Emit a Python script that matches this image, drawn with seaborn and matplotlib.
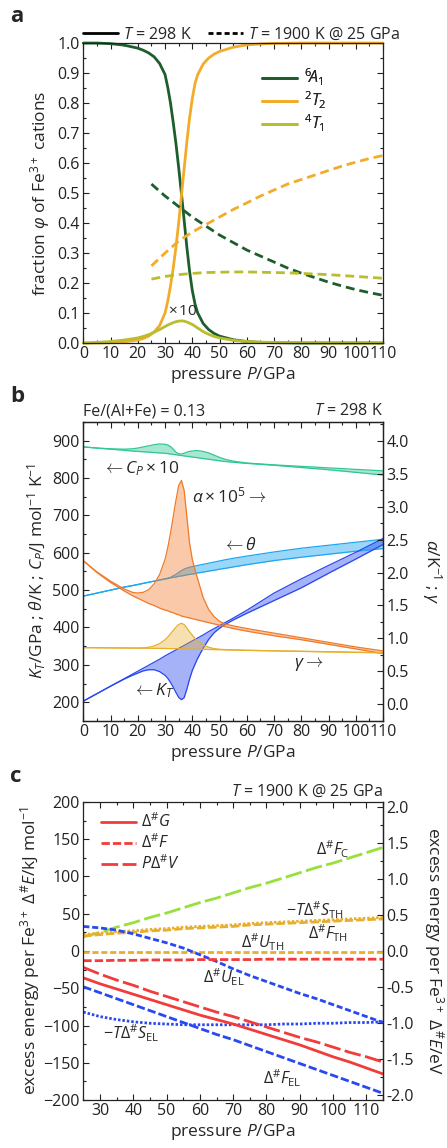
import numpy as np
import pandas as pd
import matplotlib
matplotlib.use("Agg")
import matplotlib.pyplot as plt
import seaborn as sns
from matplotlib.ticker import MultipleLocator, FormatStrFormatter
from matplotlib.lines import Line2D

# ---------------- panel a data ----------------
p_a = [0, 5, 10, 15, 20, 22, 24, 26, 28, 30, 31, 32, 33, 34, 35, 36, 37, 38, 39, 40,
       41, 42, 44, 46, 48, 50, 55, 60, 65, 70, 80, 90, 100, 110]
a6A1_298 = [1.0, 1.0, 0.998, 0.993, 0.983, 0.976, 0.967, 0.954, 0.932, 0.895, 0.852, 0.80,
            0.735, 0.665, 0.585, 0.50, 0.41, 0.32, 0.24, 0.175, 0.13, 0.10, 0.065, 0.045,
            0.032, 0.023, 0.011, 0.005, 0.002, 0.001, 0.0, 0.0, 0.0, 0.0]
a2T2_298 = [0.0, 0.0, 0.001, 0.004, 0.01, 0.015, 0.023, 0.037, 0.058, 0.10, 0.14, 0.19,
            0.25, 0.32, 0.40, 0.49, 0.58, 0.67, 0.75, 0.815, 0.865, 0.895, 0.93, 0.95,
            0.963, 0.972, 0.986, 0.994, 0.997, 0.999, 1.0, 1.0, 1.0, 1.0]
a4T1_298_x10 = [0.0, 0.002, 0.005, 0.01, 0.017, 0.022, 0.028, 0.036, 0.045, 0.055, 0.06,
                0.064, 0.068, 0.071, 0.073, 0.074, 0.073, 0.07, 0.066, 0.062, 0.056, 0.05,
                0.038, 0.029, 0.022, 0.017, 0.009, 0.005, 0.003, 0.002, 0.001, 0.0, 0.0, 0.0]
p_a_hot = [25, 30, 35, 40, 45, 50, 55, 60, 65, 70, 75, 80, 85, 90, 95, 100, 105, 110]
a6A1_1900 = [0.53, 0.49, 0.455, 0.42, 0.39, 0.36, 0.335, 0.31, 0.29, 0.27, 0.25, 0.233,
             0.218, 0.203, 0.19, 0.178, 0.168, 0.159]
a2T2_1900 = [0.257, 0.30, 0.34, 0.37, 0.395, 0.42, 0.445, 0.467, 0.49, 0.51, 0.53, 0.545,
             0.56, 0.575, 0.59, 0.603, 0.615, 0.625]
a4T1_1900 = [0.213, 0.222, 0.228, 0.232, 0.235, 0.236, 0.237, 0.237, 0.236, 0.235, 0.234,
             0.232, 0.230, 0.228, 0.225, 0.222, 0.219, 0.216]

# ---------------- panel b data ----------------
p_b = [0, 5, 10, 15, 18, 20, 22, 24, 26, 28, 30, 31, 32, 33, 34, 35, 36, 37, 38, 39, 40,
       41, 42, 44, 46, 48, 50, 52, 55, 60, 70, 80, 90, 100, 110]
cp_lo = [883, 880, 877, 874, 872, 871, 870, 869, 868, 867, 866, 865, 864, 863, 862, 861,
         860, 859, 858, 857, 856, 855, 854, 852, 850, 848, 846, 844, 842, 839, 834, 828,
         822, 815, 808]
cp_hi = [883, 880, 878, 877, 878, 880, 883, 886, 889, 891, 890, 888, 884, 877, 869, 865,
         864, 866, 869, 871, 872, 873, 873, 871, 867, 861, 855, 850, 845, 840, 835, 831,
         827, 823, 819]
alpha_lo = [2.18, 2.0, 1.85, 1.72, 1.65, 1.61, 1.57, 1.53, 1.5, 1.46, 1.43, 1.42, 1.40,
            1.39, 1.37, 1.36, 1.34, 1.33, 1.32, 1.31, 1.30, 1.29, 1.28, 1.26, 1.24, 1.22,
            1.20, 1.18, 1.15, 1.11, 1.04, 0.98, 0.91, 0.84, 0.77]
alpha_hi = [2.18, 2.01, 1.87, 1.75, 1.70, 1.69, 1.70, 1.74, 1.83, 1.97, 2.2, 2.38, 2.6,
            2.85, 3.1, 3.32, 3.40, 3.25, 2.85, 2.45, 2.2, 2.04, 1.9, 1.62, 1.44, 1.33,
            1.26, 1.22, 1.19, 1.15, 1.08, 1.01, 0.94, 0.87, 0.81]
theta_lo = [484, 492, 500, 508, 512, 515, 518, 521, 524, 527, 530, 531, 533, 534, 535,
            537, 538, 539, 541, 542, 543, 544, 546, 548, 551, 553, 556, 558, 562, 568,
            579, 588, 596, 604, 611]
theta_hi = [484, 492, 500, 508, 512, 515, 518, 521, 524, 527, 530, 532, 534, 538, 542,
            547, 552, 556, 559, 561, 563, 564, 566, 569, 572, 575, 578, 581, 585, 591,
            602, 612, 620, 628, 636]
kt_hi = [203, 223, 243, 263, 275, 283, 291, 299, 307, 315, 324, 328, 332, 336, 340, 344,
         348, 352, 356, 360, 364, 368, 372, 380, 389, 397, 405, 413, 425, 446, 492, 530,
         566, 601, 638]
kt_lo = [203, 223, 243, 262, 272, 278, 284, 287, 287, 282, 272, 264, 253, 240, 226, 213,
         207, 212, 235, 262, 285, 302, 318, 345, 368, 386, 398, 408, 420, 438, 472, 506,
         545, 583, 622]
gamma_lo = [0.86, 0.858, 0.856, 0.854, 0.853, 0.852, 0.851, 0.85, 0.849, 0.848, 0.847,
            0.846, 0.845, 0.845, 0.844, 0.843, 0.842, 0.841, 0.84, 0.839, 0.838, 0.837,
            0.836, 0.834, 0.832, 0.83, 0.828, 0.826, 0.823, 0.818, 0.81, 0.802, 0.795,
            0.787, 0.78]
gamma_hi = [0.86, 0.858, 0.856, 0.855, 0.854, 0.854, 0.857, 0.865, 0.885, 0.92, 0.98,
            1.02, 1.07, 1.12, 1.17, 1.21, 1.23, 1.21, 1.16, 1.1, 1.05, 1.0, 0.96, 0.9,
            0.865, 0.845, 0.835, 0.83, 0.826, 0.82, 0.812, 0.805, 0.798, 0.79, 0.784]

# ---------------- panel c data ----------------
p_c = [25, 30, 35, 40, 45, 50, 55, 60, 65, 70, 75, 80, 85, 90, 95, 100, 105, 110, 115]
dG = [-36, -44, -51, -58, -65, -72, -79, -86, -92, -98, -105, -112, -119, -126, -134,
      -142, -149, -157, -165]
dF = [-13, -13, -12.5, -12.5, -12, -12, -12, -11.5, -11.5, -11.5, -11.5, -11, -11, -11,
      -11, -11, -11, -11, -11]
PdV = [-22, -31, -39, -46, -54, -61, -68, -75, -82, -88, -95, -102, -109, -116, -122,
       -129, -136, -142, -149]
dF_C = [19, 25, 32, 38, 45, 51, 58, 65, 71, 78, 85, 91, 98, 105, 112, 118, 125, 132, 139]
dF_TH = [20, 22, 24, 25, 27, 28, 30, 31, 32, 33, 35, 36, 37, 38, 39, 40, 41, 42, 43]
mTdS_TH = [22, 24, 26, 27, 29, 30, 32, 33, 34, 35, 37, 38, 39, 40, 41, 42, 43, 44, 45]
dU_TH = [-1, -1, -1, -1, -1, -1, -1, -1, -1, -1, -1, -1, -1, -1, -1, -1, -1, -1, -1]
dU_EL = [33, 31, 28, 23, 17, 11, 4, -5, -14, -24, -33, -41, -49, -57, -64, -72, -80, -88,
         -96]
mTdS_EL = [-82, -88, -92, -95, -97, -98, -99, -99, -99, -99, -99, -99, -98, -98, -97, -97,
           -96, -96, -95]
dF_EL = [-48, -56, -64, -72, -80, -88, -96, -104, -112, -119, -127, -135, -143, -151,
         -159, -167, -175, -183, -191]
EV_KJ = 96.485

# ---------------- style ----------------
sns.set_theme(style="ticks")
FONT = "Open Sans"
FS = 11.5
plt.rcParams.update({
    "font.family": [FONT, "DejaVu Sans"],
    "font.size": FS,
    "mathtext.fontset": "custom",
    "mathtext.rm": FONT,
    "mathtext.it": FONT + ":italic",
    "mathtext.bf": FONT + ":bold",
    "axes.linewidth": 0.9,
    "axes.edgecolor": "#222222",
    "xtick.color": "#222222",
    "ytick.color": "#222222",
    "xtick.labelsize": FS,
    "ytick.labelsize": FS,
    "axes.labelsize": 12.5,
    "xtick.major.size": 4.5, "ytick.major.size": 4.5,
    "xtick.minor.size": 2.5, "ytick.minor.size": 2.5,
    "xtick.major.width": 0.8, "ytick.major.width": 0.8,
    "xtick.minor.width": 0.8, "ytick.minor.width": 0.8,
    "xtick.major.pad": 2.5, "ytick.major.pad": 2.5,
})


def line(ax, x, y, color, lw, dashes=None, **kw):
    if dashes is not None:
        kw["linestyle"] = (0, dashes)
    sns.lineplot(x=x, y=y, ax=ax, color=color, lw=lw, sort=False,
                 errorbar=None, legend=False, **kw)


def band(ax, x, lo, hi, color, fill_alpha, lw=0.9):
    ax.fill_between(x, lo, hi, color=color, alpha=fill_alpha, lw=0)
    line(ax, x, lo, color, lw)
    line(ax, x, hi, color, lw)


fig = plt.figure(figsize=(4.47, 11.48), dpi=100)
L, W = 0.1864, 0.6704
ax_a = fig.add_axes([L, 0.7012, W, 0.2613])
ax_b = fig.add_axes([L, 0.372, W, 0.2605])
ax_c = fig.add_axes([L, 0.0418, W, 0.2596])

# ---------------- panel a ----------------
c6, c2, c4 = "#1d5e2c", "#f2ac2a", "#b9bd2e"
line(ax_a, p_a, a6A1_298, c6, 2.0, clip_on=False)
line(ax_a, p_a, a2T2_298, c2, 2.0, clip_on=False)
line(ax_a, p_a, a4T1_298_x10, c4, 2.0, clip_on=False)
dd = (3.2, 1.8)
line(ax_a, p_a_hot, a6A1_1900, c6, 2.0, dd)
line(ax_a, p_a_hot, a2T2_1900, c2, 2.0, dd)
line(ax_a, p_a_hot, a4T1_1900, c4, 2.0, dd)
ax_a.set_xlim(0, 110)
ax_a.set_ylim(0, 1.0)
ax_a.xaxis.set_major_locator(MultipleLocator(10))
ax_a.xaxis.set_minor_locator(MultipleLocator(5))
ax_a.yaxis.set_major_locator(MultipleLocator(0.1))
ax_a.yaxis.set_minor_locator(MultipleLocator(0.05))
ax_a.yaxis.set_major_formatter(FormatStrFormatter("%.1f"))
ax_a.tick_params(which="both", direction="in", top=True, right=True)
ax_a.set_xlabel(r"pressure $P$/GPa", labelpad=2)
ax_a.set_ylabel(r"fraction $\varphi$ of Fe$^{3+}$ cations", labelpad=4)
ax_a.text(36.5, 0.08, r"$\times\,$10", ha="center", va="bottom", fontsize=11)

h_in = [Line2D([], [], color=c, lw=2.0) for c in (c6, c2, c4)]
ax_a.legend(h_in, [r"${}^6\!A_1$", r"${}^2T_2$", r"${}^4T_1$"], loc="upper left",
            bbox_to_anchor=(0.595, 0.92), frameon=False, fontsize=FS,
            handlelength=2.2, handletextpad=0.45, labelspacing=0.1,
            borderpad=0, borderaxespad=0)
ax_a.add_artist(ax_a.get_legend())
h_top = [Line2D([], [], color="black", lw=2.0),
         Line2D([], [], color="black", lw=2.0, linestyle=(0, (1.8, 1.1)))]
fig.legend(h_top, [r"$T$ = 298 K", r"$T$ = 1900 K @ 25 GPa"], loc="lower left",
           bbox_to_anchor=(L, 0.9625), ncol=2, frameon=False, fontsize=FS,
           handlelength=2.2, handletextpad=0.3, columnspacing=1.0,
           borderpad=0, borderaxespad=0)

# ---------------- panel b ----------------
ax_b2 = ax_b.twinx()
ccp, cal, cth, ckt, cga = "#2fc792", "#f07a28", "#1ea6f0", "#2a48f0", "#e8ae2e"
band(ax_b, p_b, cp_lo, cp_hi, ccp, 0.42)
band(ax_b, p_b, theta_lo, theta_hi, cth, 0.45)
band(ax_b, p_b, kt_lo, kt_hi, ckt, 0.42)
band(ax_b2, p_b, alpha_lo, alpha_hi, cal, 0.4)
band(ax_b2, p_b, gamma_lo, gamma_hi, cga, 0.38)
ax_b.set_xlim(0, 110)
ax_b.set_ylim(150, 950)
ax_b2.set_ylim(-0.254, 4.289)
ax_b.xaxis.set_major_locator(MultipleLocator(10))
ax_b.xaxis.set_minor_locator(MultipleLocator(5))
ax_b.yaxis.set_major_locator(MultipleLocator(100))
ax_b.yaxis.set_minor_locator(MultipleLocator(50))
ax_b2.yaxis.set_major_locator(MultipleLocator(0.5))
ax_b2.yaxis.set_minor_locator(MultipleLocator(0.25))
ax_b2.yaxis.set_major_formatter(FormatStrFormatter("%.1f"))
ax_b.tick_params(which="both", direction="in", top=True, right=False)
ax_b2.tick_params(which="both", direction="in", right=True)
ax_b.set_xlabel(r"pressure $P$/GPa", labelpad=2)
ax_b.set_ylabel(r"$K_T$/GPa ; $\theta$/K ; $C_P$/J mol$^{-1}$ K$^{-1}$", labelpad=3)
ax_b2.set_ylabel(r"$\alpha$/K$^{-1}$ ; $\gamma$", rotation=270, va="bottom", labelpad=8)
ax_b.text(0, 1.008, "Fe/(Al+Fe) = 0.13", transform=ax_b.transAxes, ha="left",
          va="bottom", fontsize=FS)
ax_b.text(1, 1.008, r"$T$ = 298 K", transform=ax_b.transAxes, ha="right",
          va="bottom", fontsize=FS)
ax_b.text(7, 825, r"$\leftarrow C_P\times$10", va="center", fontsize=12.5)
ax_b.text(40, 750, r"$\alpha\times$10$^5\rightarrow$", va="center", fontsize=12.5)
ax_b.text(51, 618, r"$\leftarrow\theta$", va="center", fontsize=12.5)
ax_b.text(77.5, 301, r"$\gamma\rightarrow$", va="center", fontsize=12.5)
ax_b.text(18, 231, r"$\leftarrow K_T$", va="center", fontsize=12.5)

# ---------------- panel c ----------------
cr, cbl, cor, cgr = "#f23b3b", "#2a48f0", "#e8ae2e", "#98e03a"
s_F = (3.0, 1.1)
s_PV = (6.0, 1.6)
s_U = (2.2, 1.0)
s_S = (0.9, 0.7)
line(ax_c, p_c, dF_C, cgr, 2.0, s_PV)
line(ax_c, p_c, mTdS_TH, cor, 2.0, s_S)
line(ax_c, p_c, dF_TH, cor, 2.0, s_F)
line(ax_c, p_c, dU_TH, cor, 2.0, s_U)
line(ax_c, p_c, dU_EL, cbl, 2.0, s_U)
line(ax_c, p_c, mTdS_EL, cbl, 2.0, s_S)
line(ax_c, p_c, dF_EL, cbl, 2.0, s_F)
line(ax_c, p_c, dF, cr, 2.0, s_F)
line(ax_c, p_c, PdV, cr, 2.0, s_PV)
line(ax_c, p_c, dG, cr, 2.0)
ax_c.set_xlim(25, 115)
ax_c.set_ylim(-200, 200)
ax_c.xaxis.set_major_locator(MultipleLocator(10))
ax_c.xaxis.set_minor_locator(MultipleLocator(5))
ax_c.yaxis.set_major_locator(MultipleLocator(50))
ax_c.yaxis.set_minor_locator(MultipleLocator(25))
ax_c.tick_params(which="both", direction="in", top=True, right=False)
sec = ax_c.secondary_yaxis("right", functions=(lambda v: v / EV_KJ, lambda v: v * EV_KJ))
sec.yaxis.set_major_locator(MultipleLocator(0.5))
sec.yaxis.set_minor_locator(MultipleLocator(0.25))
sec.yaxis.set_major_formatter(FormatStrFormatter("%.1f"))
sec.tick_params(which="both", direction="in")
sec.set_ylabel(r"excess energy per Fe$^{3+}$ $\Delta^{\#}E$/eV", rotation=270,
               va="bottom", labelpad=6)
ax_c.set_xlabel(r"pressure $P$/GPa", labelpad=2)
ax_c.set_ylabel(r"excess energy per Fe$^{3+}$ $\Delta^{\#}E$/kJ mol$^{-1}$", labelpad=1)
ax_c.text(1, 1.008, r"$T$ = 1900 K @ 25 GPa", transform=ax_c.transAxes, ha="right",
          va="bottom", fontsize=FS)
h_c = [Line2D([], [], color=cr, lw=2.0),
       Line2D([], [], color=cr, lw=2.0, linestyle=(0, s_F)),
       Line2D([], [], color=cr, lw=2.0, linestyle=(0, s_PV))]
ax_c.legend(h_c, [r"$\Delta^{\#}G$", r"$\Delta^{\#}F$", r"$P\Delta^{\#}V$"],
            loc="upper left", bbox_to_anchor=(0.06, 0.965), frameon=False, fontsize=FS,
            handlelength=2.2, handletextpad=0.3, labelspacing=0.15,
            borderpad=0, borderaxespad=0)
lab = dict(fontsize=FS, va="center", ha="left")
ax_c.text(95, 137, r"$\Delta^{\#}F_{\rm C}$", **lab)
ax_c.text(86, 54, r"$-T\Delta^{\#}S_{\rm TH}$", **lab)
ax_c.text(92.5, 24, r"$\Delta^{\#}F_{\rm TH}$", **lab)
ax_c.text(72.5, 12, r"$\Delta^{\#}U_{\rm TH}$", **lab)
ax_c.text(61, -35, r"$\Delta^{\#}U_{\rm EL}$", **lab)
ax_c.text(31, -111, r"$-T\Delta^{\#}S_{\rm EL}$", **lab)
ax_c.text(79, -171, r"$\Delta^{\#}F_{\rm EL}$", **lab)

# panel letters
for letter, yp in (("a", 17), ("b", 397), ("c", 776)):
    fig.text(10 / 447, 1 - yp / 1148, letter, fontweight="bold", fontsize=16,
             ha="left", va="center")

fig.savefig("out.png", dpi=100)
